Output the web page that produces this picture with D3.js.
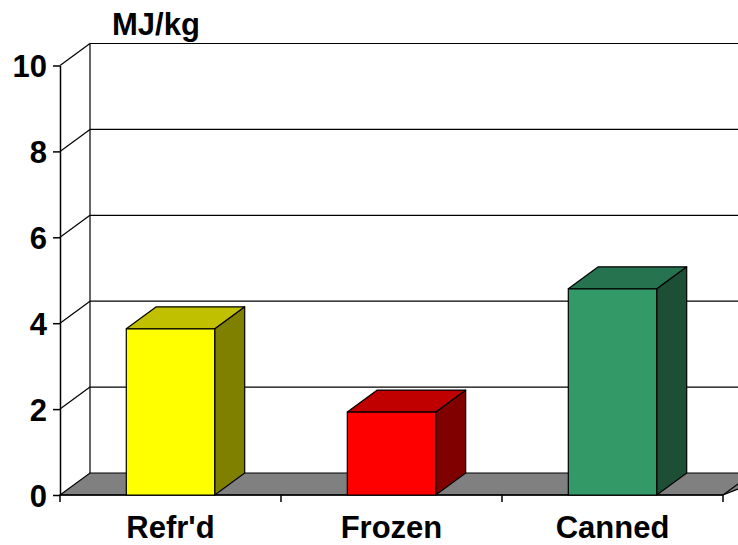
<!DOCTYPE html>
<html>
<head>
<meta charset="utf-8">
<script src="https://cdn.jsdelivr.net/npm/d3@7"></script>
<style>
  html, body { margin: 0; padding: 0; background: #fff; }
  svg { display: block; }
  text { font-family: "Liberation Sans", Arial, sans-serif; font-weight: bold; fill: #000; }
</style>
</head>
<body>
<script>
// Energy use per kilogram by preservation method
const categories = ["Refr'd", "Frozen", "Canned"];
const values = [3.87, 1.93, 4.8];
const frontColors = ["#FFFF00", "#FF0000", "#339966"];
const topColors = ["#C0C000", "#C00000", "#267350"];
const sideColors = ["#808000", "#800000", "#1D4F37"];
const yTicks = [0, 2, 4, 6, 8, 10];
const unitLabel = "MJ/kg";

const W = 738, H = 545;
const depthX = 30, depthY = -22;   // oblique offset of the back plane
const fontSize = "31px";

const svg = d3.select("body").append("svg").attr("width", W).attr("height", H);

const x = d3.scaleBand().domain(categories).range([60, 723])
  .paddingInner(0.6).paddingOuter(0.3);
const xEdge = d3.scaleLinear().domain([0, categories.length]).range([60, 723]);
const y = d3.scaleLinear().domain([0, 10]).range([495, 65.5]);

const line = d3.line();

// back wall: left edge, top edge and horizontal gridlines
const walls = svg.append("g").attr("stroke", "#000").attr("stroke-width", 1.2).attr("fill", "none");
walls.append("path").attr("d", line([[60 + depthX, y(0) + depthY], [60 + depthX, y(10) + depthY]]));
yTicks.filter(t => t > 0).forEach(t => {
  walls.append("path").attr("d", line([[60 + depthX, y(t) + depthY], [W + 5, y(t) + depthY]]));
  // side wall diagonals
  walls.append("path").attr("d", line([[60, y(t)], [60 + depthX, y(t) + depthY]]));
});

// floor
svg.append("path")
  .attr("d", line([[60, y(0)], [60 + depthX, y(0) + depthY], [W + 40, y(0) + depthY],
                   [723, y(0)]]) + "Z")
  .attr("fill", "#808080").attr("stroke", "#000").attr("stroke-width", 1.2);
svg.append("path")
  .attr("d", line([[723, y(0)], [723 + depthX, y(0) + depthY]]))
  .attr("stroke", "#000").attr("stroke-width", 1.2);

// value axis (front-left)
const yAxis = svg.append("g").attr("transform", "translate(60,0)")
  .call(d3.axisLeft(y).tickValues(yTicks).tickSize(7).tickSizeOuter(0).tickPadding(6));
yAxis.select(".domain").attr("stroke", "#000").attr("stroke-width", 1.5);
yAxis.selectAll(".tick line").attr("stroke", "#000").attr("stroke-width", 1.5);
yAxis.selectAll("text").style("font-size", fontSize).attr("dy", "0.36em");

// category axis along the front edge of the floor
svg.append("path").attr("d", line([[60, y(0)], [723, y(0)]]))
  .attr("stroke", "#000").attr("stroke-width", 1.5);
d3.range(categories.length + 1).forEach(i => {
  svg.append("path").attr("d", line([[xEdge(i), y(0)], [xEdge(i), y(0) + 7]]))
    .attr("stroke", "#000").attr("stroke-width", 1.5);
});

// 3D bars
const bars = svg.append("g").attr("stroke", "#000").attr("stroke-width", 1.2).attr("stroke-linejoin", "round");
categories.forEach((c, i) => {
  const x0 = x(c), x1 = x(c) + x.bandwidth();
  const y0 = y(0), y1 = y(values[i]);
  const g = bars.append("g");
  g.append("path") // side
    .attr("d", line([[x1, y0], [x1 + depthX, y0 + depthY], [x1 + depthX, y1 + depthY], [x1, y1]]) + "Z")
    .attr("fill", sideColors[i]);
  g.append("path") // top
    .attr("d", line([[x0, y1], [x0 + depthX, y1 + depthY], [x1 + depthX, y1 + depthY], [x1, y1]]) + "Z")
    .attr("fill", topColors[i]);
  g.append("path") // front
    .attr("d", line([[x0, y0], [x0, y1], [x1, y1], [x1, y0]]) + "Z")
    .attr("fill", frontColors[i]);
});

// category labels
svg.append("g").selectAll("text").data(categories).join("text")
  .attr("x", d => x(d) + x.bandwidth() / 2)
  .attr("y", 538)
  .attr("text-anchor", "middle")
  .style("font-size", fontSize)
  .text(d => d);

// unit label
svg.append("text").attr("x", 112).attr("y", 35).style("font-size", fontSize).text(unitLabel);
</script>
</body>
</html>
